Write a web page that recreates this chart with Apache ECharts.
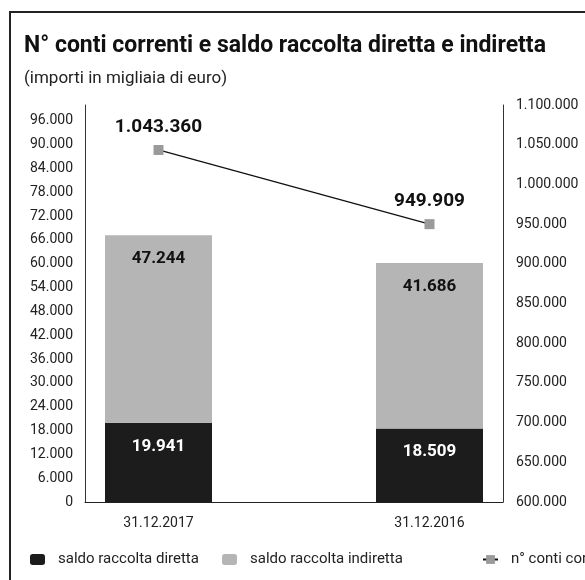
<!DOCTYPE html>
<html>
<head>
<meta charset="utf-8">
<script src="https://cdn.jsdelivr.net/npm/echarts@6/dist/echarts.min.js"></script>
<style>
  html, body { margin: 0; padding: 0; background: #fff; }
  #main { width: 585px; height: 580px; }
</style>
</head>
<body>
<div id="main"></div>
<script>
// dati
var dates = ['31.12.2017', '31.12.2016'];
var diretta = [19941, 18509];
var indiretta = [47244, 41686];
var conti = [1043360, 949909];

var FONT = 'Roboto';

// separatore migliaia all'italiana
function fmt(v) {
	return String(v).replace(/\B(?=(\d{3})+(?!\d))/g, '.');
}

var myChart = echarts.init(document.getElementById('main'));

myChart.setOption({
	backgroundColor: '#fff',
	animation: false,
	textStyle: { fontFamily: FONT },
	title: {
		text: 'N° conti correnti e saldo raccolta diretta e indiretta',
		subtext: '(importi in migliaia di euro)',
		left: 24,
		top: 35,
		padding: 0,
		itemGap: 12,
		textStyle: { fontFamily: FONT, fontSize: 23, fontWeight: 'bold', color: '#111' },
		subtextStyle: { fontFamily: FONT, fontSize: 17, color: '#222' }
	},
	graphic: [{
		type: 'rect',
		shape: { x: 10, y: 12, width: 620, height: 620 },
		style: { fill: 'none', stroke: '#222', lineWidth: 2 }
	}],
	legend: [
		{ data: ['saldo raccolta diretta'], left: 30, top: 552 },
		{ data: ['saldo raccolta indiretta'], left: 222, top: 552 },
		{ data: ['n° conti correnti'], left: 482, top: 552 }
	].map(function (l) {
		return Object.assign({
			padding: 0,
			itemWidth: 15,
			itemHeight: 11,
			textStyle: { fontFamily: FONT, fontSize: 15, color: '#222', padding: [0, 0, 0, 8] }
		}, l);
	}),
	grid: [
		{ left: 85, right: 82, top: 105, bottom: 78 },
		{ left: 23, right: 20, top: 105, bottom: 78 }
	],
	xAxis: [
		{
			gridIndex: 0, type: 'category', data: dates,
			axisLine: { lineStyle: { color: '#222', width: 1 } },
			axisTick: { show: false }, axisLabel: { show: false }
		},
		{
			gridIndex: 1, type: 'category', data: dates,
			axisLine: { show: false }, axisTick: { show: false },
			axisLabel: { margin: 14, fontSize: 14, color: '#222', fontFamily: FONT }
		}
	],
	yAxis: [
		{
			gridIndex: 0, type: 'value', position: 'left', min: 0, max: 100000, interval: 6000,
			splitLine: { show: false },
			axisLine: { show: true, lineStyle: { color: '#333' } },
			axisTick: { show: false },
			axisLabel: {
				margin: 12, fontSize: 14, color: '#222', fontFamily: FONT,
				formatter: function (v) { return v % 6000 === 0 ? fmt(v) : ''; }
			}
		},
		{
			gridIndex: 0, type: 'value', position: 'right', min: 600000, max: 1100000, interval: 50000,
			splitLine: { show: false },
			axisLine: { show: true, lineStyle: { color: '#333' } },
			axisTick: { show: false },
			axisLabel: { margin: 13, fontSize: 14, color: '#222', fontFamily: FONT, formatter: fmt }
		},
		{ gridIndex: 1, type: 'value', min: 0, max: 100000, show: false },
		{ gridIndex: 1, type: 'value', min: 600000, max: 1100000, show: false }
	],
	series: [
		{
			name: 'saldo raccolta diretta',
			type: 'bar', stack: 'saldo',
			xAxisIndex: 1, yAxisIndex: 2,
			barWidth: 107,
			data: diretta,
			itemStyle: { color: '#1c1c1c' },
			label: {
				show: true, position: 'insideTop', distance: 15,
				color: '#fff', fontSize: 17, fontWeight: 'bold', fontFamily: FONT,
				formatter: function (p) { return fmt(p.value); }
			}
		},
		{
			name: 'saldo raccolta indiretta',
			type: 'bar', stack: 'saldo',
			xAxisIndex: 1, yAxisIndex: 2,
			barWidth: 107,
			data: indiretta,
			itemStyle: { color: '#b5b5b5' },
			label: {
				show: true, position: 'insideTop', distance: 15,
				color: '#111', fontSize: 17, fontWeight: 'bold', fontFamily: FONT,
				formatter: function (p) { return fmt(p.value); }
			}
		},
		{
			name: 'n° conti correnti',
			type: 'line',
			xAxisIndex: 1, yAxisIndex: 3,
			data: conti,
			symbol: 'rect', symbolSize: 10,
			itemStyle: { color: '#9a9a9a' },
			lineStyle: { color: '#111', width: 1.3 },
			label: {
				show: true, position: 'top', distance: 8,
				color: '#111', fontSize: 19, fontWeight: 'bold', fontFamily: FONT,
				formatter: function (p) { return fmt(p.value); }
			}
		}
	]
});
</script>
</body>
</html>
